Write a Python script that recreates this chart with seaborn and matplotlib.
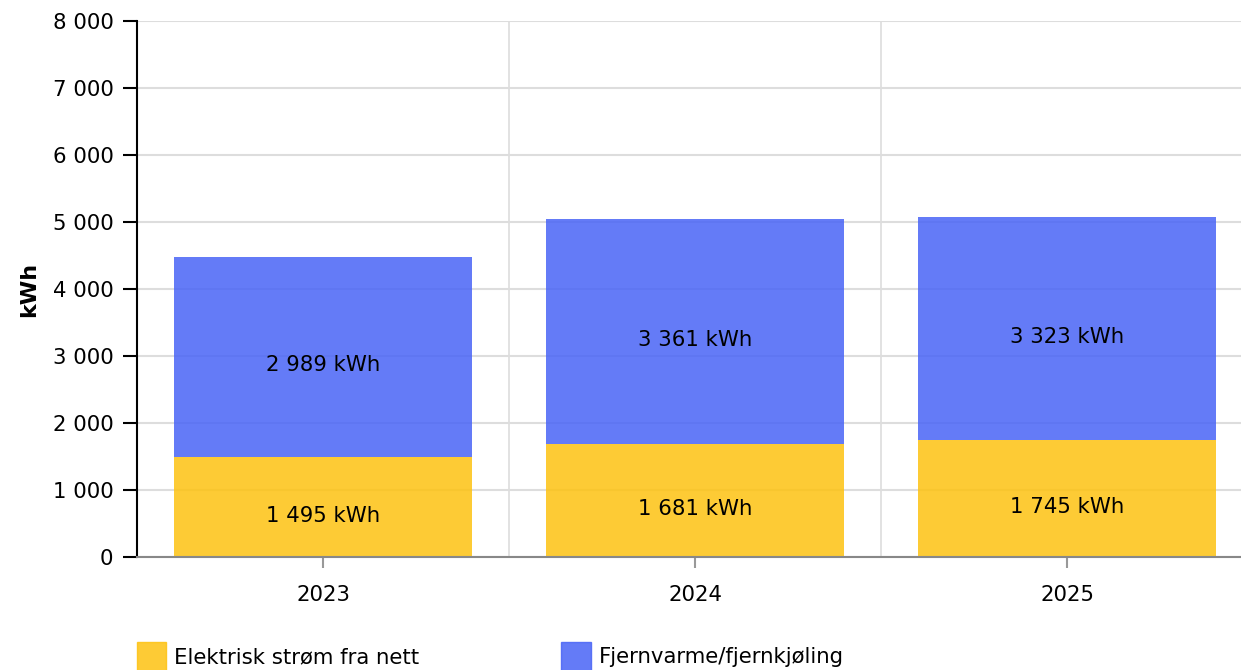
import matplotlib
matplotlib.use("Agg")
import matplotlib.pyplot as plt
import seaborn as sns
from matplotlib.ticker import FuncFormatter
from matplotlib.patches import Patch

years = ["2023", "2024", "2025"]
elektrisk = [1495, 1681, 1745]
fjernvarme = [2989, 3361, 3323]
series_names = ["Elektrisk strøm fra nett", "Fjernvarme/fjernkjøling"]

yellow = "#FDC211"
blue = "#4964F6"
alpha = 0.85
fs = 15.3

sns.set_style("white")
plt.rcParams['font.family'] = ['DejaVu Sans']
plt.rcParams['text.color'] = 'black'
plt.rcParams['axes.labelcolor'] = 'black'

fig = plt.figure(figsize=(12.41, 6.70), dpi=100)
ax = fig.add_axes([0.1104, 0.1687, 0.8993, 0.8])

# blue segment sits on top of the yellow one
sns.barplot(x=years, y=fjernvarme, color=blue, alpha=alpha, width=0.8,
            saturation=1, ax=ax, zorder=2, linewidth=0, edgecolor="none")
for patch, b in zip(ax.patches, elektrisk):
    patch.set_y(b)
sns.barplot(x=years, y=elektrisk, color=yellow, alpha=alpha, width=0.8,
            saturation=1, ax=ax, zorder=2, linewidth=0, edgecolor="none")

fmt = lambda v: f"{v:,.0f}".replace(",", " ")

for i, (e, f) in enumerate(zip(elektrisk, fjernvarme)):
    ax.text(i, e / 2 - 130, fmt(e) + " kWh", ha="center", va="center", fontsize=fs, zorder=3)
    ax.text(i, e + f / 2 - 130, fmt(f) + " kWh", ha="center", va="center", fontsize=fs, zorder=3)

ax.set_ylim(0, 8000)
ax.set_xlim(-0.5, 2.5)
ax.set_yticks(range(0, 8001, 1000))
ax.yaxis.set_major_formatter(FuncFormatter(lambda v, p: fmt(v)))
ax.yaxis.grid(True, color="#dddddd", linewidth=1.5, zorder=0)
ax.set_axisbelow(True)
for xv in [0.5, 1.5]:
    ax.axvline(xv, color="#dddddd", linewidth=1.2, zorder=0)

ax.tick_params(axis="y", length=10, width=1.5, color="black", labelcolor="black",
               labelsize=fs, pad=7, left=True)
ax.tick_params(axis="x", length=8, width=1.5, color="#999999", labelcolor="black",
               labelsize=fs, pad=12, bottom=True)

for s in ["top", "right"]:
    ax.spines[s].set_visible(False)
ax.spines["left"].set_color("black")
ax.spines["left"].set_linewidth(1.5)
ax.spines["bottom"].set_color("#888888")
ax.spines["bottom"].set_linewidth(1.5)

ax.set_xlabel("")
ax.set_ylabel("kWh", fontsize=16, fontweight="bold", labelpad=10)

handles = [Patch(facecolor=yellow, alpha=alpha, edgecolor=yellow),
           Patch(facecolor=blue, alpha=alpha, edgecolor=blue)]
fig.legend(handles, series_names, loc="upper left", bbox_to_anchor=(0.110, 0.042),
           ncol=2, frameon=False, fontsize=fs, handlelength=1.4, handleheight=1.7,
           handletextpad=0.35, columnspacing=6.7, borderaxespad=0, borderpad=0)

fig.savefig("out.png", dpi=100)
